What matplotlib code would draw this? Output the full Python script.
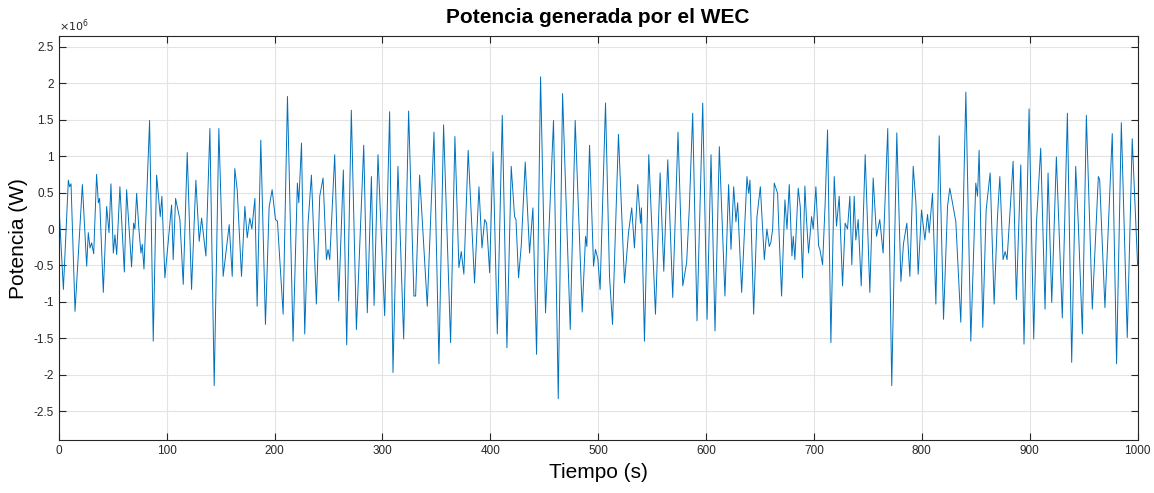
import matplotlib
matplotlib.use("Agg")
import matplotlib.pyplot as plt
from matplotlib.ticker import FuncFormatter

# Peaks and troughs (time in s, power in MW)
tiempo = [
    0, 4.3, 8.9, 10.1, 11.4, 15.1, 21.9, 25.9, 27.4, 29.0, 30.5, 32.4, 35.1, 36.7, 37.9,
    41.3, 44.4, 46.6, 48.4, 50.6, 52.1, 53.7, 56.7, 60.8, 62.9, 67.5, 69.4, 70.6, 72.2,
    74.3, 76.2, 77.4, 79.0, 84.2, 87.6, 90.7, 94.1, 95.6, 98.4, 104.6, 106.1, 108.3,
    112.3, 115.4, 119.1, 123.1, 127.1, 130.2, 132.4, 136.4, 140.1, 144.1, 148.4, 152.4,
    158.0, 160.8, 163.2, 165.4, 169.4, 172.5, 174.7, 177.1, 179.0, 181.8, 183.9, 187.3,
    191.6, 195.0, 197.8, 200.9, 202.7, 208.0, 212.0, 217.2, 221.2, 222.5, 225.0, 228.0,
    231.1, 234.2, 238.8, 241.9, 245.0, 248.1, 249.6, 251.2, 255.8, 259.5, 263.8, 266.9,
    271.2, 275.9, 282.7, 286.0, 289.8, 292.3, 295.9, 302.1, 306.7, 309.8, 314.4, 319.7,
    324.3, 329.2, 330.8, 334.5, 341.6, 347.8, 352.4, 356.7, 363.2, 367.2, 370.9, 373.1,
    375.5, 379.5, 385.4, 389.5, 392.3, 394.8, 396.6, 399.4, 402.5, 406.5, 411.1, 415.4,
    419.4, 422.5, 423.8, 426.2, 428.7, 432.4, 436.4, 439.5, 442.9, 446.6, 451.2, 458.6,
    463.0, 467.0, 474.1, 478.7, 485.2, 488.3, 489.5, 492.0, 495.7, 497.5, 499.7, 501.8,
    506.8, 510.5, 513.3, 518.8, 524.4, 528.1, 531.1, 533.6, 536.7, 539.2, 540.1, 542.9,
    546.9, 553.1, 557.4, 560.8, 564.5, 569.1, 574.0, 578.4, 582.0, 584.5, 587.6, 591.6,
    596.9, 600.9, 604.6, 608.3, 612.3, 617.5, 620.9, 623.1, 625.6, 627.7, 629.3, 633.0,
    637.9, 639.5, 640.7, 644.1, 647.2, 650.3, 654.0, 656.4, 658.6, 660.1, 661.7, 663.2,
    666.3, 667.5, 670.0, 673.1, 675.0, 677.1, 679.6, 680.8, 682.3, 685.4, 687.3, 689.4,
    691.6, 693.1, 695.0, 697.8, 699.3, 701.8, 704.3, 705.5, 708.0, 710.4, 712.6, 715.7,
    718.8, 720.9, 723.4, 726.5, 728.9, 731.1, 733.3, 735.1, 737.3, 738.8, 741.0, 743.8,
    747.5, 751.8, 754.9, 758.0, 761.0, 764.1, 768.4, 772.1, 776.8, 780.6, 783.0, 786.1,
    788.9, 792.0, 794.5, 796.6, 799.7, 802.8, 805.3, 806.8, 809.9, 813.0, 816.1, 820.1,
    823.8, 825.9, 828.4, 831.5, 836.1, 840.8, 845.4, 850.0, 851.6, 853.1, 856.5, 859.6,
    863.3, 867.0, 870.1, 872.3, 875.3, 877.2, 879.0, 884.6, 887.6, 891.7, 894.7, 899.4,
    903.7, 906.2, 910.2, 914.2, 917.0, 920.4, 924.7, 930.2, 934.9, 938.9, 942.6, 945.0,
    948.8, 952.5, 958.0, 963.6, 964.8, 969.7, 976.5, 980.5, 984.9, 990.4, 995.0, 1000.0,
]
potencia_mw = [
    0.38, -0.83, 0.67, 0.58, 0.62, -1.13, 0.61, -0.51, -0.05, -0.26, -0.19, -0.34, 0.75, 0.36, 0.42,
    -0.87, 0.31, -0.05, 0.62, -0.33, -0.08, -0.35, 0.58, -0.59, 0.54, -0.52, 0.08, 0.0, 0.49,
    0.0, -0.33, -0.21, -0.55, 1.49, -1.54, 0.74, 0.17, 0.45, -0.67, 0.33, -0.42, 0.42,
    0.13, -0.76, 1.05, -0.83, 0.67, -0.17, 0.15, -0.37, 1.38, -2.15, 1.38, -0.65,
    0.06, -0.65, 0.83, 0.54, -0.65, 0.31, -0.12, 0.15, 0.0, 0.42, -1.06, 1.22,
    -1.31, 0.30, 0.54, 0.13, 0.11, -1.17, 1.82, -1.54, 0.63, 0.36, 1.18, -1.44,
    0.08, 0.74, -1.03, 0.45, 0.70, -0.42, -0.28, -0.42, 1.02, -0.99, 0.81, -1.59,
    1.63, -1.38, 1.15, -1.15, 0.72, -1.05, 1.02, -1.19, 1.61, -1.97, 0.86, -1.51,
    1.62, -0.92, -0.92, 0.74, -1.06, 1.33, -1.85, 1.43, -1.56, 1.27, -0.53, -0.31,
    -0.62, 1.08, -0.74, 0.58, -0.26, 0.13, 0.08, -0.60, 1.06, -1.44, 1.56, -1.63,
    0.86, 0.17, 0.13, -0.67, -0.23, 0.92, -0.33, 0.29, -1.72, 2.09, -1.15, 1.49,
    -2.33, 1.86, -1.38, 1.49, -1.14, -0.10, -0.24, 1.15, -0.51, -0.28, -0.41, -0.83,
    1.73, -0.65, -1.31, 1.30, -0.74, -0.05, 0.29, -0.26, 0.61, 0.08, 0.29, -1.54,
    1.02, -1.17, 0.77, -0.58, 0.95, -0.94, 1.33, -0.78, -0.46, 0.30, 1.59, -1.26,
    1.73, -1.24, 1.02, -1.40, 1.13, -0.92, 0.61, -0.28, 0.58, 0.10, 0.36, -0.87,
    0.72, 0.49, 0.67, -1.17, 0.17, 0.58, -0.42, 0.0, -0.24, -0.18, 0.0, 0.63,
    0.49, 0.0, -0.92, 0.40, 0.0, 0.61, -0.37, -0.10, -0.42, 0.56, 0.31, -0.67,
    0.59, 0.13, -0.33, 0.17, 0.0, 0.58, -0.23, -0.28, -0.49, 0.36, 1.36, -1.56,
    0.72, 0.04, 0.45, -0.78, 0.08, 0.0, 0.45, -0.49, 0.45, -0.15, 0.13, -0.78,
    1.02, -0.87, 0.70, -0.10, 0.13, -0.33, 1.38, -2.15, 1.32, -0.72, -0.20, 0.08,
    -0.65, 0.86, 0.36, -0.62, 0.26, -0.15, 0.20, -0.05, 0.49, -1.03, 1.28, -1.24,
    0.31, 0.56, 0.36, 0.10, -1.28, 1.88, -1.54, 0.63, 0.45, 1.08, -1.35, 0.26,
    0.77, -1.03, 0.17, 0.72, -0.42, -0.31, -0.42, 0.93, -0.97, 0.88, -1.58, 1.65,
    -1.51, 0.08, 1.11, -1.10, 0.77, -1.01, 0.99, -1.22, 1.59, -1.83, 0.86, 0.08,
    -1.44, 1.56, -1.10, 0.72, 0.68, -1.08, 1.31, -1.85, 1.46, -1.49, 1.24, -0.50,
]
potencia = [p * 1e6 for p in potencia_mw]

x_ticks = list(range(0, 1001, 100))
y_ticks = [-2.5e6, -2e6, -1.5e6, -1e6, -0.5e6, 0, 0.5e6, 1e6, 1.5e6, 2e6, 2.5e6]

plt.rcParams["font.family"] = ["Liberation Sans", "DejaVu Sans"]
gris = "#262626"

fig = plt.figure(figsize=(11.54, 4.93), dpi=100)
ax = fig.add_axes([0.0509, 0.107, 0.9349, 0.820])

ax.plot(tiempo, potencia, color="#0072BD", linewidth=0.7)

ax.set_xlim(0, 1000)
ax.set_ylim(-2.9e6, 2.65e6)
ax.set_xticks(x_ticks)
ax.set_yticks(y_ticks)
# MATLAB style labels: plain hyphen, no trailing zeros, exponent shown separately
ax.yaxis.set_major_formatter(FuncFormatter(lambda v, pos: "%g" % (v / 1e6)))
ax.text(0.0, 1.006, r"$\times10^{6}$", transform=ax.transAxes, fontsize=8,
        color=gris, ha="left", va="bottom")

ax.grid(True, color="#e3e3e3", linewidth=0.8)
ax.set_axisbelow(True)
ax.tick_params(direction="in", length=5, width=0.8, labelsize=8.5,
               colors=gris, top=True, right=True)
for s in ax.spines.values():
    s.set_color(gris)
    s.set_linewidth(0.8)

ax.set_title("Potencia generada por el WEC", fontsize=15, fontweight="bold", pad=9)
ax.set_xlabel("Tiempo (s)", fontsize=15, labelpad=4)
ax.set_ylabel("Potencia (W)", fontsize=15, labelpad=4)

fig.savefig("out.png", dpi=100)
